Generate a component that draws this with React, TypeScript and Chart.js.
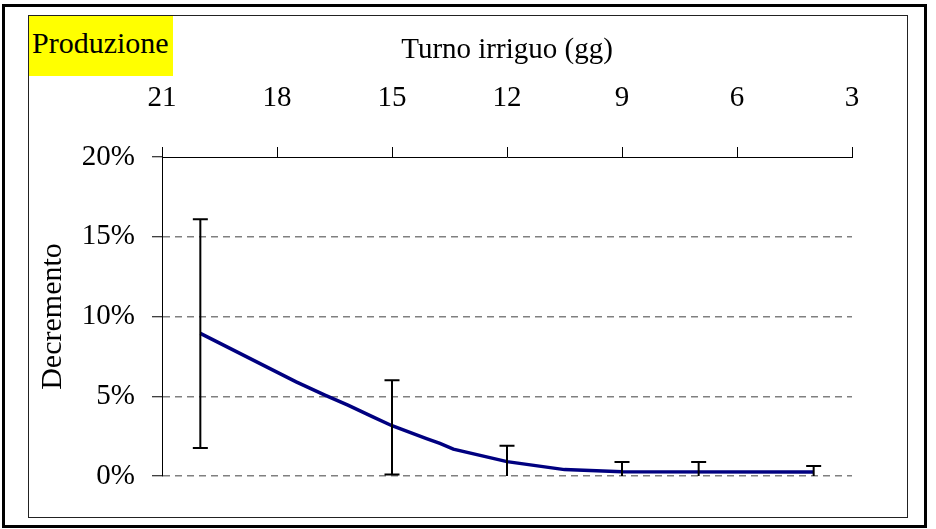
import React, { useEffect, useRef } from 'react';
import { Chart, registerables } from 'chart.js';

Chart.register(...registerables);

const SERIF = "'Liberation Serif', 'Times New Roman', serif";

// axis ticks
const X_TICKS = [21, 18, 15, 12, 9, 6, 3];
const Y_TICKS = [0, 5, 10, 15, 20];

// decremento (%) per turno irriguo (giorni)
const LINE_DAYS = [20, 17.5, 16.75, 16.15, 15.5, 15, 14.1, 13.75, 13.4, 12, 10.5, 9, 4];
const LINE_PCT = [8.94, 5.9, 5.07, 4.44, 3.71, 3.15, 2.35, 2.04, 1.68, 0.9, 0.4, 0.27, 0.25];

// barre d'errore
const ERR_DAYS = [20, 15, 12, 9, 7, 4];
const ERR_LOW = [1.75, 0.1, 0, 0, 0, 0];
const ERR_HIGH = [16.1, 6.0, 1.9, 0.88, 0.88, 0.63];

const errorBars = {
  id: 'errorBars',
  afterDatasetsDraw(chart: Chart) {
    const { ctx } = chart;
    const x = chart.scales.x;
    const y = chart.scales.y;
    ctx.save();
    ctx.strokeStyle = '#000';
    ctx.lineWidth = 2;
    ERR_DAYS.forEach((d, i) => {
      const px = x.getPixelForValue(d);
      const top = y.getPixelForValue(ERR_HIGH[i]);
      const bot = y.getPixelForValue(ERR_LOW[i]);
      ctx.beginPath();
      ctx.moveTo(px, top);
      ctx.lineTo(px, bot);
      ctx.moveTo(px - 7.5, top);
      ctx.lineTo(px + 7.5, top);
      if (ERR_LOW[i] > 0) {
        ctx.moveTo(px - 7.5, bot);
        ctx.lineTo(px + 7.5, bot);
      }
      ctx.stroke();
    });
    ctx.restore();
  },
};

const App: React.FC = () => {
  const canvasRef = useRef<HTMLCanvasElement>(null);
  const chartRef = useRef<Chart | null>(null);

  useEffect(() => {
    if (!canvasRef.current) return;
    if (chartRef.current) chartRef.current.destroy();
    const ctx = canvasRef.current.getContext('2d');
    if (!ctx) return;

    Chart.defaults.font.family = SERIF;
    Chart.defaults.color = '#000';

    chartRef.current = new Chart(ctx, {
      type: 'line',
      data: {
        datasets: [
          {
            label: 'Decremento',
            data: LINE_DAYS.map((d, i) => ({ x: d, y: LINE_PCT[i] })),
            borderColor: '#000080',
            backgroundColor: '#000080',
            borderWidth: 3.5,
            pointRadius: 0,
            tension: 0,
            fill: false,
          },
        ],
      },
      options: {
        responsive: true,
        maintainAspectRatio: false,
        animation: false,
        layout: { padding: { left: 28, top: 15, right: 84, bottom: 53 } },
        plugins: {
          legend: { display: false },
          tooltip: { enabled: false },
        },
        scales: {
          x: {
            type: 'linear',
            position: 'top',
            reverse: true,
            min: Math.min(...X_TICKS),
            max: Math.max(...X_TICKS),
            afterBuildTicks: (scale) => {
              scale.ticks = X_TICKS.map((v) => ({ value: v }));
            },
            afterFit: (scale) => {
              scale.height = 142;
            },
            ticks: {
              color: '#000',
              font: { size: 29 },
              padding: 31,
              maxRotation: 0,
              autoSkip: false,
            },
            grid: {
              drawOnChartArea: false,
              drawTicks: true,
              tickLength: 10,
              tickColor: '#000',
              tickWidth: 1,
            },
            border: { display: true, color: '#000', width: 1 },
            title: {
              display: true,
              text: 'Turno irriguo (gg)',
              color: '#000',
              font: { size: 29 },
              padding: { top: 18, bottom: 0 },
            },
          },
          y: {
            type: 'linear',
            position: 'left',
            min: Math.min(...Y_TICKS),
            max: Math.max(...Y_TICKS),
            afterBuildTicks: (scale) => {
              scale.ticks = Y_TICKS.map((v) => ({ value: v }));
            },
            afterFit: (scale) => {
              scale.width = 134;
            },
            ticks: {
              color: '#000',
              font: { size: 29 },
              padding: 17,
              callback: (v) => `${v}%`,
            },
            grid: {
              color: (c) => (c.tick && c.tick.value === Math.max(...Y_TICKS) ? 'rgba(0,0,0,0)' : '#808080'),
              lineWidth: 1.5,
              tickLength: 10,
              tickColor: '#000',
              tickWidth: 1,
            },
            border: { display: true, color: '#000', width: 1, dash: [7, 5] },
            title: {
              display: true,
              text: 'Decremento',
              color: '#000',
              font: { size: 30 },
              padding: { top: 7, bottom: 0 },
            },
          },
        },
      },
      plugins: [errorBars],
    });

    return () => {
      chartRef.current?.destroy();
      chartRef.current = null;
    };
  }, []);

  return (
    <div style={{ position: 'absolute', left: 0, top: 0, width: 936, height: 529, background: '#fff' }}>
      <div style={{ position: 'absolute', left: 0, top: 0, width: 936, height: 529 }}>
        <canvas ref={canvasRef} />
      </div>
      {/* cornici */}
      <div
        style={{
          position: 'absolute', left: 2, top: 4, width: 925, height: 524,
          border: '3px solid #000', boxSizing: 'border-box', pointerEvents: 'none',
        }}
      />
      <div
        style={{
          position: 'absolute', left: 28, top: 15, width: 880, height: 503,
          border: '1px solid #222', boxSizing: 'border-box', pointerEvents: 'none',
        }}
      />
      <div
        style={{
          position: 'absolute', left: 29, top: 16, width: 144, height: 60,
          background: '#ffff00', pointerEvents: 'none',
        }}
      />
      <div
        style={{
          position: 'absolute', left: 32, top: 28, fontFamily: SERIF, fontSize: 30,
          lineHeight: '30px', color: '#000', whiteSpace: 'nowrap', pointerEvents: 'none',
        }}
      >
        Produzione
      </div>
    </div>
  );
};

export default App;
